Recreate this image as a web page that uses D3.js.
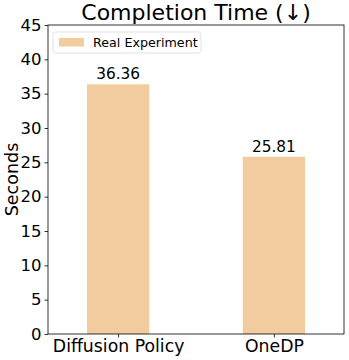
<!DOCTYPE html>
<html><head><meta charset="utf-8">
<script src="https://cdn.jsdelivr.net/npm/d3@7"></script>
<style>body{margin:0;background:#fff}svg{display:block}text{font-family:"DejaVu Sans",sans-serif}</style>
</head><body>
<script>
const categories = ["Diffusion Policy", "OneDP"];
const values = [36.36, 25.81];
const yTicks = [0, 5, 10, 15, 20, 25, 30, 35, 40, 45];
const seriesName = "Real Experiment";
const title = "Completion Time (\u2193)";
const yLabel = "Seconds";

const W = 349, H = 360;
const m = {l: 48, r: 5, t: 25, b: 26};
const svg = d3.select("body").append("svg").attr("width", W).attr("height", H);
const pw = W - m.l - m.r, ph = H - m.t - m.b;
const g = svg.append("g").attr("transform", `translate(${m.l},${m.t})`);
const x = d3.scaleLinear().domain([-0.45, categories.length - 1 + 0.45]).range([0, pw]);
const y = d3.scaleLinear().domain([0, 45]).range([ph, 0]);
const bw = x(0.4) - x(0);
const color = "#f2cc9e";

g.selectAll("rect.bar").data(values).enter().append("rect")
  .attr("x", (d, i) => x(i) - bw / 2).attr("width", bw)
  .attr("y", d => y(d)).attr("height", d => y(0) - y(d)).attr("fill", color);

g.selectAll("text.val").data(values).enter().append("text")
  .attr("x", (d, i) => x(i)).attr("y", d => y(d) - 5)
  .attr("text-anchor", "middle").attr("font-size", 15.3).text(d => d.toFixed(2));

const ya = g.append("g").call(d3.axisLeft(y).tickValues(yTicks).tickSize(3.5).tickPadding(3));
ya.selectAll("text").attr("font-size", 16.5).attr("fill", "#000").style("font-family", "DejaVu Sans");
const xa = g.append("g").attr("transform", `translate(0,${ph})`)
  .call(d3.axisBottom(x).tickValues(categories.map((c, i) => i)).tickFormat(i => categories[i]).tickSize(3.5).tickPadding(2));
xa.selectAll("text").attr("font-size", 17.3).attr("fill", "#000").style("font-family", "DejaVu Sans");
[ya, xa].forEach(a => { a.select(".domain").remove(); a.selectAll("line").attr("stroke", "#000").attr("stroke-width", 0.8); });

g.append("rect").attr("x", 0).attr("y", 0).attr("width", pw).attr("height", ph)
  .attr("fill", "none").attr("stroke", "#000").attr("stroke-width", 0.8);

// legend
const lg = g.append("g").attr("transform", "translate(5,7)");
lg.append("rect").attr("width", 148).attr("height", 21).attr("rx", 2.5)
  .attr("fill", "#fff").attr("fill-opacity", 0.8).attr("stroke", "#d9d9d9").attr("stroke-width", 0.8);
lg.append("rect").attr("x", 6).attr("y", 6).attr("width", 25).attr("height", 8.5).attr("fill", color);
lg.append("text").attr("x", 40).attr("y", 15).attr("font-size", 12.7).text(seriesName);

svg.append("text").attr("x", m.l + pw / 2).attr("y", 20).attr("text-anchor", "middle")
  .attr("font-size", 22).text(title);
svg.append("text").attr("transform", `translate(18,${m.t + ph / 2}) rotate(-90)`)
  .attr("text-anchor", "middle").attr("font-size", 17.5).text(yLabel);
</script>
</body></html>
